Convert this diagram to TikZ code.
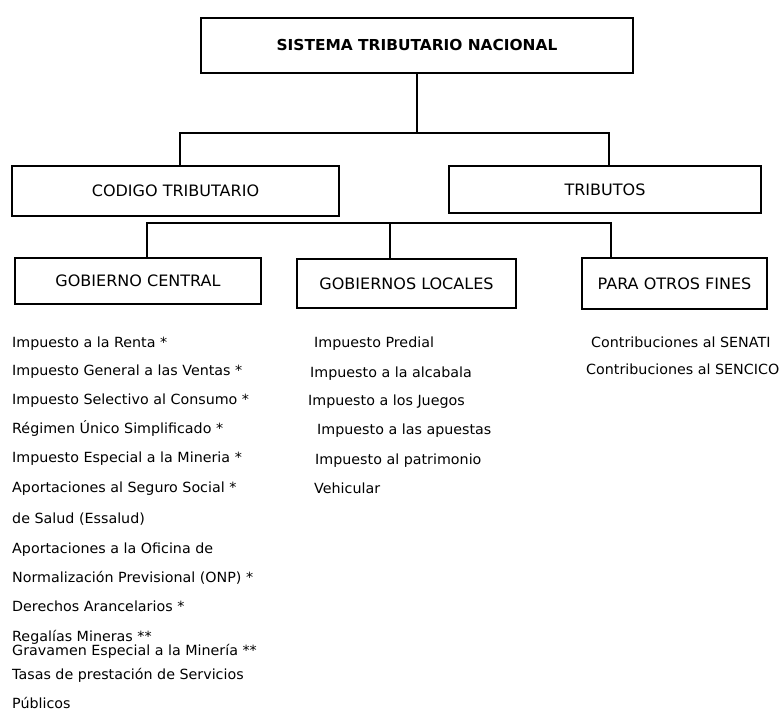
\documentclass[tikz,border=0pt]{standalone}
\usepackage{fontspec}
\setmainfont[FakeStretch=1.02]{DejaVu Sans}
\begin{document}
\begin{tikzpicture}[x=1pt,y=-1pt,
  box/.style={draw=black, line width=1.6pt, inner sep=0pt, align=center,
    font=\fontsize{15.7pt}{17pt}\selectfont},
  mainbox/.style={box, line width=2.4pt,
    font=\fontsize{15.1pt}{17pt}\selectfont\bfseries},
  link/.style={draw=black, line width=1.5pt},
  item/.style={anchor=base west, inner sep=0pt,
    font=\fontsize{14pt}{16pt}\selectfont}]
  \useasboundingbox (0,0) rectangle (779,717);
  \fill[white] (0,0) rectangle (779,717);

  % top level
  \node[mainbox, minimum width=432pt, minimum height=55pt] (top) at (417,45.5) {SISTEMA TRIBUTARIO NACIONAL};

  % second level
  \node[box, minimum width=327pt, minimum height=50pt] (codigo) at (175.5,191) {CODIGO TRIBUTARIO};
  \node[box, minimum width=312pt, minimum height=47pt] (tributos) at (605,189.5) {TRIBUTOS};

  % third level
  \node[box, minimum width=246pt, minimum height=46pt] (gc) at (138,281) {GOBIERNO CENTRAL};
  \node[box, minimum width=219pt, minimum height=49pt] (gl) at (406.5,283.5) {GOBIERNOS LOCALES};
  \node[box, minimum width=185pt, minimum height=51pt] (pof) at (674.5,283.5) {PARA OTROS FINES};

  % connector buses
  \coordinate (busA) at (180,133);
  \coordinate (busB) at (609,133);
  \coordinate (busL) at (147,223);
  \coordinate (busM) at (390,223);
  \coordinate (busR) at (611,223);

  \draw[link] (top.south) -- (top.south |- busA);
  \draw[link] (codigo.north -| busA) |- (busB) -- (tributos.north -| busB);
  \draw[link] (gc.north -| busL) |- (busR) -- (pof.north -| busR);
  \draw[link] (busM) -- (gl.north -| busM);

  % Gobierno central
  \node[item] (c1)  at (12,347) {Impuesto a la Renta *};
  \node[item] (c2)  at (12,375) {Impuesto General a las Ventas *};
  \node[item] (c3)  at (12,404) {Impuesto Selectivo al Consumo *};
  \node[item] (c4)  at (12,433) {Régimen Único Simplificado *};
  \node[item] (c5)  at (12,462) {Impuesto Especial a la Mineria *};
  \node[item] (c6)  at (12,492) {Aportaciones al Seguro Social *};
  \node[item] (c7)  at (12,523) {de Salud (Essalud)};
  \node[item] (c8)  at (12,553) {Aportaciones a la Oficina de};
  \node[item] (c9)  at (12,582) {Normalización Previsional (ONP) *};
  \node[item] (c10) at (12,611) {Derechos Arancelarios *};
  \node[item] (c11) at (12,641) {Regalías Mineras **};
  \node[item] (c12) at (12,655) {Gravamen Especial a la Minería **};
  \node[item] (c13) at (12,679) {Tasas de prestación de Servicios};
  \node[item] (c14) at (12,708) {Públicos};

  % Gobiernos locales
  \node[item] (g1) at (314,347) {Impuesto Predial};
  \node[item] (g2) at (310,377) {Impuesto a la alcabala};
  \node[item] (g3) at (308,405) {Impuesto a los Juegos};
  \node[item] (g4) at (317,434) {Impuesto a las apuestas};
  \node[item] (g5) at (315,464) {Impuesto al patrimonio};
  \node[item] (g6) at (314,493) {Vehicular};

  % Para otros fines
  \node[item] (o1) at (591,347) {Contribuciones al SENATI};
  \node[item] (o2) at (586,374) {Contribuciones al SENCICO};
\end{tikzpicture}
\end{document}
